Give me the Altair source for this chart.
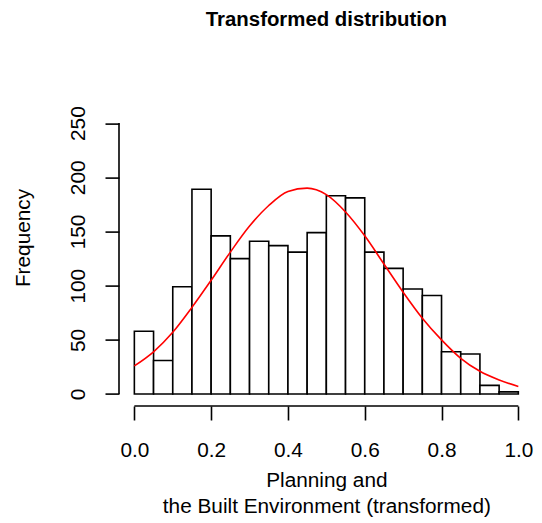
import altair as alt
import pandas as pd

# Histogram bins (width 0.05) and counts
bin_start = [0.00, 0.05, 0.10, 0.15, 0.20, 0.25, 0.30, 0.35, 0.40, 0.45,
             0.50, 0.55, 0.60, 0.65, 0.70, 0.75, 0.80, 0.85, 0.90, 0.95]
bin_end = [0.05, 0.10, 0.15, 0.20, 0.25, 0.30, 0.35, 0.40, 0.45, 0.50,
           0.55, 0.60, 0.65, 0.70, 0.75, 0.80, 0.85, 0.90, 0.95, 1.00]
counts = [58, 31, 99, 189, 146, 125, 141, 137, 131, 149,
          183, 181, 131, 116, 97, 91, 39, 37, 8, 2]

# Red fitted curve
curve_x = [0.00, 0.05, 0.10, 0.15, 0.20, 0.25, 0.30, 0.35, 0.40, 0.45, 0.50,
           0.55, 0.60, 0.65, 0.70, 0.75, 0.80, 0.85, 0.90, 0.95, 1.00]
curve_y = [26, 39, 57, 80, 105, 131, 155, 174, 187, 190, 184,
           168, 146, 120, 94, 70, 50, 33, 21, 13, 7]

x_ticks = [0.0, 0.2, 0.4, 0.6, 0.8, 1.0]
y_ticks = [0, 50, 100, 150, 200, 250]

title_text = "Transformed distribution"
x_title = ["Planning and", "the Built Environment (transformed)"]
y_title = "Frequency"

FONT = "Liberation Sans"
FS = 20.8
W = 414.7
H = 315.4

hist_df = pd.DataFrame({"start": bin_start, "end": bin_end, "count": counts})
curve_df = pd.DataFrame({"x": curve_x, "y": curve_y})
yaxis_df = pd.DataFrame({"y": [y_ticks[0]], "y2": [y_ticks[-1]]})
xaxis_df = pd.DataFrame({"x": [x_ticks[0]], "x2": [x_ticks[-1]]})

xscale = alt.Scale(domain=[-0.04, 1.04], nice=False, zero=False)
yscale = alt.Scale(domain=[-11, 280], nice=False, zero=False)

x_axis = alt.Axis(
    values=x_ticks, format=".1f", domain=False, grid=False,
    ticks=True, tickSize=14, tickColor="black", tickWidth=1.6,
    labelFont=FONT, labelFontSize=FS, labelColor="black",
    labelBaseline="top", labelPadding=20.7, labelFlush=False, labelOverlap=False,
    title=x_title, titleFont=FONT, titleFontSize=FS, titleFontWeight="normal",
    titleColor="black", titleBaseline="alphabetic", titleY=80.7, titleX=W / 2,
    titleAlign="center", titleLineHeight=26,
)
y_axis = alt.Axis(
    values=y_ticks, domain=False, grid=False,
    ticks=True, tickSize=14, tickColor="black", tickWidth=1.6,
    labelFont=FONT, labelFontSize=FS, labelColor="black",
    labelAngle=270, labelAlign="center", labelBaseline="alphabetic",
    labelPadding=20, labelFlush=False, labelOverlap=False,
    title=y_title, titleFont=FONT, titleFontSize=FS, titleFontWeight="normal",
    titleColor="black", titleAngle=270, titleAlign="center",
    titleBaseline="alphabetic", titleX=-89.6, titleY=146.9,
)

bars = alt.Chart(hist_df).mark_rect(
    fill="white", stroke="black", strokeWidth=1.6
).encode(
    x=alt.X("start:Q", scale=xscale, axis=x_axis),
    x2="end:Q",
    y=alt.Y("count:Q", scale=yscale, axis=y_axis),
    y2=alt.datum(0),
)

curve = alt.Chart(curve_df).mark_line(
    color="#ff0000", strokeWidth=1.6, interpolate="monotone"
).encode(x="x:Q", y="y:Q")

yline = alt.Chart(yaxis_df).mark_rule(color="black", strokeWidth=1.6).encode(
    x=alt.value(0), y="y:Q", y2="y2:Q"
)
xline = alt.Chart(xaxis_df).mark_rule(color="black", strokeWidth=1.6).encode(
    y=alt.value(H), x="x:Q", x2="x2:Q"
)

chart = alt.layer(bars, curve, yline, xline).properties(
    width=W,
    height=H,
    background="white",
    title=alt.TitleParams(
        title_text, font=FONT, fontSize=20.4, fontWeight="bold",
        color="black", anchor="middle", baseline="alphabetic", offset=44,
    ),
    autosize="none",
    padding={"left": 111, "top": 82.6, "right": 0, "bottom": 116},
).configure_view(strokeWidth=0, stroke="transparent")

chart.save("out.html", embed_options={"renderer": "svg", "actions": False})
